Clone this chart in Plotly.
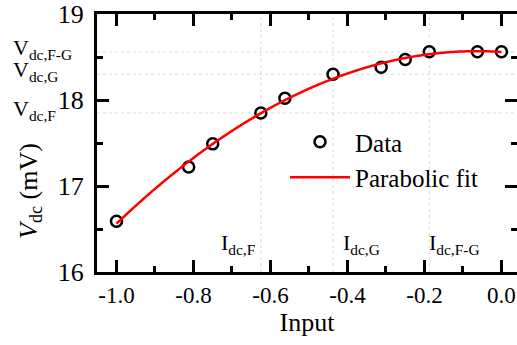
import numpy as np
import plotly.graph_objects as go

# ---- data ----
x_input = [-1.0, -0.8125, -0.75, -0.625, -0.5625, -0.4375, -0.3125, -0.25, -0.1875, -0.0625, 0.0]
v_dc = [16.59, 17.22, 17.49, 17.85, 18.02, 18.30, 18.38, 18.47, 18.56, 18.56, 18.56]

# reference levels (gridlines) and their labels
v_levels = [18.56, 18.30, 17.85]
v_labels = ["V<sub>dc,F-G</sub>", "V<sub>dc,G</sub>", "V<sub>dc,F</sub>"]
i_levels = [-0.625, -0.4375, -0.1875]
i_labels = ["I<sub>dc,F</sub>", "I<sub>dc,G</sub>", "I<sub>dc,F-G</sub>"]

x_ticks = [-1.0, -0.8, -0.6, -0.4, -0.2, 0.0]
y_ticks = [16, 17, 18, 19]

# parabolic fit
coef = np.polyfit(x_input, v_dc, 2)
x_fit = np.linspace(min(x_input), max(x_input), 300)
y_fit = np.polyval(coef, x_fit)

FONT = "Liberation Serif"
W, H = 517, 345
L, R, T, B = 97, 0, 14, 73
PW, PH = W - L - R, H - T - B


def px_x(px):
    return (px - L) / PW


def px_y(py):
    return (H - B - py) / PH


fig = go.Figure()
fig.add_trace(go.Scatter(
    x=x_input, y=v_dc, mode="markers", name="Data",
    marker=dict(symbol="circle-open", size=11, color="black", line=dict(width=2.5, color="black")),
))
fig.add_trace(go.Scatter(
    x=x_fit, y=y_fit, mode="lines", name="Parabolic fit",
    line=dict(color="#ff0000", width=2.5, shape="spline"),
))
# invisible trace to activate right-side tick axis
fig.add_trace(go.Scatter(x=x_input, y=v_dc, yaxis="y2", mode="markers",
                         marker=dict(opacity=0), showlegend=False, hoverinfo="skip"))

shapes = []
for v in v_levels:
    shapes.append(dict(type="line", xref="paper", x0=0, x1=1, yref="y", y0=v, y1=v,
                       line=dict(color="#dadada", width=1, dash="dot"), layer="below"))
for i in i_levels:
    shapes.append(dict(type="line", yref="paper", y0=0, y1=1, xref="x", x0=i, x1=i,
                       line=dict(color="#dadada", width=1, dash="dot"), layer="below"))

annotations = []
for v, lab in zip(v_levels, v_labels):
    annotations.append(dict(text=lab, xref="paper", x=px_x(11), xanchor="left",
                            yref="y", y=v, yanchor="middle", yshift=3, showarrow=False,
                            font=dict(family=FONT, size=22, color="black")))
i_anchor = ["right", "left", "left"]
i_shift = [-4, 8, -2]
for i, lab, anc, sh in zip(i_levels, i_labels, i_anchor, i_shift):
    annotations.append(dict(text=lab, xref="x", x=i, xanchor=anc, xshift=sh,
                            yref="y", y=16.33, yanchor="middle", showarrow=False,
                            font=dict(family=FONT, size=22, color="black")))
# y-axis title
annotations.append(dict(text="<i>V</i><sub>dc</sub> (mV)", textangle=-90,
                        xref="paper", x=px_x(30), xanchor="center",
                        yref="paper", y=px_y(191), yanchor="middle", showarrow=False,
                        font=dict(family=FONT, size=26, color="black")))

xr = [-1.0506, 0.0403]
yr = [16, 19]

fig.update_layout(
    width=W, height=H,
    margin=dict(l=L, r=R, t=T, b=B),
    paper_bgcolor="white", plot_bgcolor="white",
    font=dict(family=FONT, color="black"),
    showlegend=True,
    legend=dict(x=px_x(285), xanchor="left", y=px_y(119), yanchor="top",
                bgcolor="rgba(0,0,0,0)", font=dict(family=FONT, size=25, color="black"),
                itemwidth=60, tracegroupgap=0),
    xaxis=dict(range=xr, tickvals=x_ticks, ticktext=[f"{t:.1f}" for t in x_ticks],
               ticks="inside", ticklen=12, tickwidth=3, tickcolor="black",
               showline=True, linewidth=3, linecolor="black", mirror="ticks",
               showgrid=False, zeroline=False,
               minor=dict(dtick=0.1, tick0=0, ticks="inside", ticklen=6, tickwidth=2.5, tickcolor="black", showgrid=False),
               tickfont=dict(family=FONT, size=23, color="black"),
               title=dict(text="Input", font=dict(family=FONT, size=26, color="black"), standoff=4)),
    yaxis=dict(range=yr, tickvals=y_ticks, ticks="inside", ticklen=12, tickwidth=3, tickcolor="black",
               showline=True, linewidth=3, linecolor="black", mirror=False,
               showgrid=False, zeroline=False, ticklabelstandoff=5,
               minor=dict(dtick=0.5, tick0=0, ticks="inside", ticklen=6, tickwidth=2.5, tickcolor="black", showgrid=False),
               tickfont=dict(family=FONT, size=26, color="black")),
    yaxis2=dict(range=yr, overlaying="y", side="right", tickvals=y_ticks, showticklabels=False,
                ticks="inside", ticklen=12, tickwidth=3, tickcolor="black", showline=False,
                showgrid=False, zeroline=False,
                minor=dict(dtick=0.5, tick0=0, ticks="inside", ticklen=6, tickwidth=2.5, tickcolor="black", showgrid=False)),
    shapes=shapes,
    annotations=annotations,
)

fig.write_html("out.html")
